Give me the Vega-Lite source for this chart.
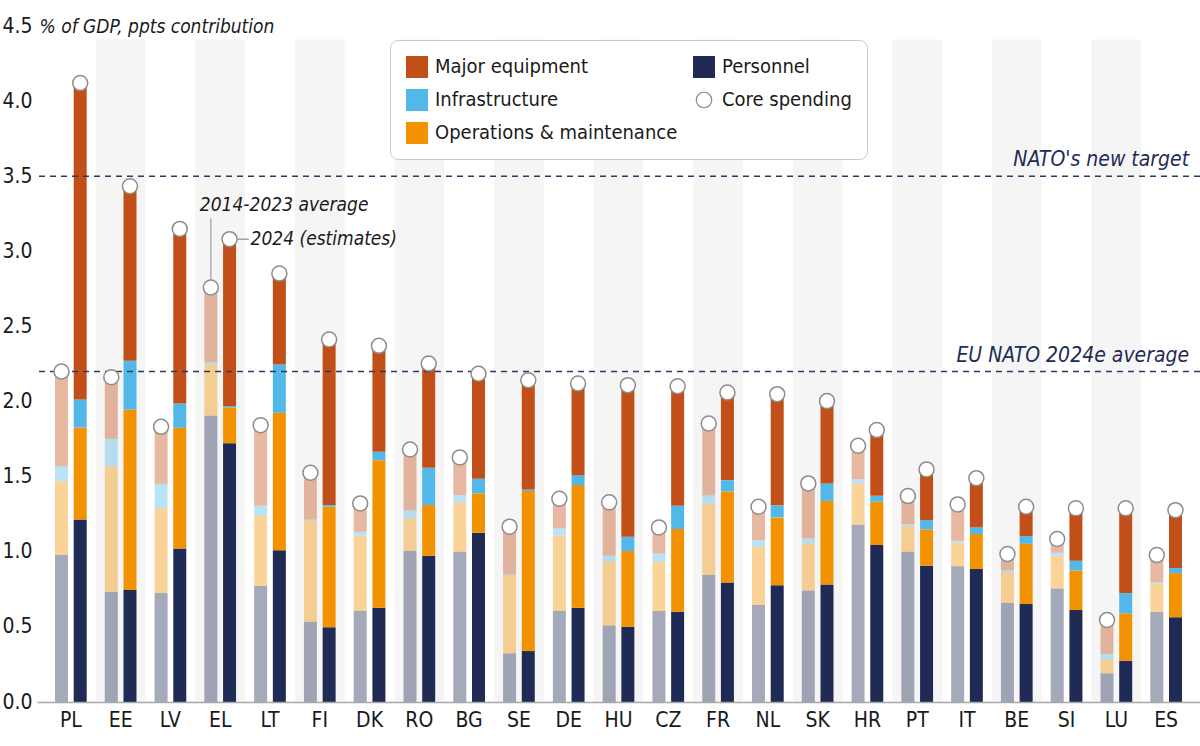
{
  "$schema": "https://vega.github.io/schema/vega-lite/v6.json",
  "width": 1163,
  "height": 676,
  "autosize": {"type": "none"},
  "padding": {"left": 37, "top": 26, "right": 0, "bottom": 44},
  "background": "white",
  "config": {
    "view": {"stroke": null},
    "font": "DejaVu Sans Condensed, Roboto",
    "axis": {"labelFont": "DejaVu Sans Condensed, Roboto", "titleFont": "DejaVu Sans Condensed, Roboto"},
    "legend": {"labelFont": "DejaVu Sans Condensed, Roboto"}
  },
  "datasets": {
    "spend": [
      {"country": "PL", "period": "avg", "Personnel": 0.98, "Operations & maintenance": 0.49, "Infrastructure": 0.10, "Major equipment": 0.63, "total": 2.20},
      {"country": "PL", "period": "2024", "Personnel": 1.215, "Operations & maintenance": 0.613, "Infrastructure": 0.186, "Major equipment": 2.106, "total": 4.12},
      {"country": "EE", "period": "avg", "Personnel": 0.734, "Operations & maintenance": 0.836, "Infrastructure": 0.182, "Major equipment": 0.41, "total": 2.162},
      {"country": "EE", "period": "2024", "Personnel": 0.745, "Operations & maintenance": 1.202, "Infrastructure": 0.324, "Major equipment": 1.162, "total": 3.433},
      {"country": "LV", "period": "avg", "Personnel": 0.725, "Operations & maintenance": 0.566, "Infrastructure": 0.161, "Major equipment": 0.38, "total": 1.832},
      {"country": "LV", "period": "2024", "Personnel": 1.022, "Operations & maintenance": 0.803, "Infrastructure": 0.162, "Major equipment": 1.162, "total": 3.149},
      {"country": "EL", "period": "avg", "Personnel": 1.905, "Operations & maintenance": 0.342, "Infrastructure": 0.015, "Major equipment": 0.497, "total": 2.759},
      {"country": "EL", "period": "2024", "Personnel": 1.723, "Operations & maintenance": 0.238, "Infrastructure": 0.010, "Major equipment": 1.11, "total": 3.081},
      {"country": "LT", "period": "avg", "Personnel": 0.772, "Operations & maintenance": 0.470, "Infrastructure": 0.064, "Major equipment": 0.537, "total": 1.843},
      {"country": "LT", "period": "2024", "Personnel": 1.011, "Operations & maintenance": 0.914, "Infrastructure": 0.322, "Major equipment": 0.605, "total": 2.852},
      {"country": "FI", "period": "avg", "Personnel": 0.534, "Operations & maintenance": 0.672, "Infrastructure": 0.008, "Major equipment": 0.312, "total": 1.526},
      {"country": "FI", "period": "2024", "Personnel": 0.497, "Operations & maintenance": 0.803, "Infrastructure": 0.011, "Major equipment": 1.102, "total": 2.413},
      {"country": "DK", "period": "avg", "Personnel": 0.608, "Operations & maintenance": 0.499, "Infrastructure": 0.026, "Major equipment": 0.189, "total": 1.322},
      {"country": "DK", "period": "2024", "Personnel": 0.628, "Operations & maintenance": 0.982, "Infrastructure": 0.056, "Major equipment": 0.705, "total": 2.371},
      {"country": "RO", "period": "avg", "Personnel": 1.007, "Operations & maintenance": 0.215, "Infrastructure": 0.053, "Major equipment": 0.406, "total": 1.681},
      {"country": "RO", "period": "2024", "Personnel": 0.974, "Operations & maintenance": 0.337, "Infrastructure": 0.248, "Major equipment": 0.694, "total": 2.253},
      {"country": "BG", "period": "avg", "Personnel": 1.0, "Operations & maintenance": 0.329, "Infrastructure": 0.048, "Major equipment": 0.251, "total": 1.628},
      {"country": "BG", "period": "2024", "Personnel": 1.127, "Operations & maintenance": 0.262, "Infrastructure": 0.097, "Major equipment": 0.699, "total": 2.185},
      {"country": "SE", "period": "avg", "Personnel": 0.324, "Operations & maintenance": 0.519, "Infrastructure": 0.005, "Major equipment": 0.319, "total": 1.167},
      {"country": "SE", "period": "2024", "Personnel": 0.339, "Operations & maintenance": 1.065, "Infrastructure": 0.011, "Major equipment": 0.727, "total": 2.142},
      {"country": "DE", "period": "avg", "Personnel": 0.608, "Operations & maintenance": 0.499, "Infrastructure": 0.049, "Major equipment": 0.197, "total": 1.353},
      {"country": "DE", "period": "2024", "Personnel": 0.628, "Operations & maintenance": 0.816, "Infrastructure": 0.066, "Major equipment": 0.61, "total": 2.12},
      {"country": "HU", "period": "avg", "Personnel": 0.51, "Operations & maintenance": 0.428, "Infrastructure": 0.036, "Major equipment": 0.355, "total": 1.329},
      {"country": "HU", "period": "2024", "Personnel": 0.501, "Operations & maintenance": 0.504, "Infrastructure": 0.095, "Major equipment": 1.009, "total": 2.109},
      {"country": "CZ", "period": "avg", "Personnel": 0.605, "Operations & maintenance": 0.329, "Infrastructure": 0.055, "Major equipment": 0.173, "total": 1.162},
      {"country": "CZ", "period": "2024", "Personnel": 0.601, "Operations & maintenance": 0.55, "Infrastructure": 0.155, "Major equipment": 0.796, "total": 2.102},
      {"country": "FR", "period": "avg", "Personnel": 0.845, "Operations & maintenance": 0.477, "Infrastructure": 0.055, "Major equipment": 0.477, "total": 1.854},
      {"country": "FR", "period": "2024", "Personnel": 0.796, "Operations & maintenance": 0.606, "Infrastructure": 0.075, "Major equipment": 0.583, "total": 2.06},
      {"country": "NL", "period": "avg", "Personnel": 0.645, "Operations & maintenance": 0.388, "Infrastructure": 0.045, "Major equipment": 0.222, "total": 1.30},
      {"country": "NL", "period": "2024", "Personnel": 0.778, "Operations & maintenance": 0.451, "Infrastructure": 0.08, "Major equipment": 0.74, "total": 2.049},
      {"country": "SK", "period": "avg", "Personnel": 0.743, "Operations & maintenance": 0.313, "Infrastructure": 0.033, "Major equipment": 0.366, "total": 1.455},
      {"country": "SK", "period": "2024", "Personnel": 0.783, "Operations & maintenance": 0.556, "Infrastructure": 0.116, "Major equipment": 0.548, "total": 2.003},
      {"country": "HR", "period": "avg", "Personnel": 1.18, "Operations & maintenance": 0.275, "Infrastructure": 0.029, "Major equipment": 0.222, "total": 1.706},
      {"country": "HR", "period": "2024", "Personnel": 1.045, "Operations & maintenance": 0.288, "Infrastructure": 0.04, "Major equipment": 0.437, "total": 1.81},
      {"country": "PT", "period": "avg", "Personnel": 1.0, "Operations & maintenance": 0.171, "Infrastructure": 0.013, "Major equipment": 0.187, "total": 1.371},
      {"country": "PT", "period": "2024", "Personnel": 0.907, "Operations & maintenance": 0.242, "Infrastructure": 0.062, "Major equipment": 0.337, "total": 1.548},
      {"country": "IT", "period": "avg", "Personnel": 0.903, "Operations & maintenance": 0.157, "Infrastructure": 0.013, "Major equipment": 0.242, "total": 1.315},
      {"country": "IT", "period": "2024", "Personnel": 0.885, "Operations & maintenance": 0.233, "Infrastructure": 0.044, "Major equipment": 0.328, "total": 1.49},
      {"country": "BE", "period": "avg", "Personnel": 0.659, "Operations & maintenance": 0.204, "Infrastructure": 0.013, "Major equipment": 0.109, "total": 0.985},
      {"country": "BE", "period": "2024", "Personnel": 0.652, "Operations & maintenance": 0.401, "Infrastructure": 0.051, "Major equipment": 0.196, "total": 1.30},
      {"country": "SI", "period": "avg", "Personnel": 0.756, "Operations & maintenance": 0.218, "Infrastructure": 0.019, "Major equipment": 0.092, "total": 1.085},
      {"country": "SI", "period": "2024", "Personnel": 0.612, "Operations & maintenance": 0.264, "Infrastructure": 0.064, "Major equipment": 0.349, "total": 1.289},
      {"country": "LU", "period": "avg", "Personnel": 0.191, "Operations & maintenance": 0.093, "Infrastructure": 0.035, "Major equipment": 0.227, "total": 0.546},
      {"country": "LU", "period": "2024", "Personnel": 0.275, "Operations & maintenance": 0.315, "Infrastructure": 0.135, "Major equipment": 0.564, "total": 1.289},
      {"country": "ES", "period": "avg", "Personnel": 0.599, "Operations & maintenance": 0.188, "Infrastructure": 0.009, "Major equipment": 0.182, "total": 0.978},
      {"country": "ES", "period": "2024", "Personnel": 0.564, "Operations & maintenance": 0.294, "Infrastructure": 0.034, "Major equipment": 0.385, "total": 1.277}
    ],
    "refs": [
      {"y": 3.5, "label": "NATO's new target"},
      {"y": 2.2, "label": "EU NATO 2024e average"}
    ]
  },
  "layer": [
    {
      "data": {"name": "spend"},
      "transform": [
        {"filter": "datum.period === 'avg'"},
        {"calculate": "indexof(['PL','EE','LV','EL','LT','FI','DK','RO','BG','SE','DE','HU','CZ','FR','NL','SK','HR','PT','IT','BE','SI','LU','ES'], datum.country) % 2", "as": "odd"},
        {"filter": "datum.odd === 1"}
      ],
      "mark": {"type": "rect", "fill": "#000000", "fillOpacity": 0.04},
      "encoding": {
        "x": {
          "field": "country", "type": "nominal",
          "scale": {"domain": ["PL","EE","LV","EL","LT","FI","DK","RO","BG","SE","DE","HU","CZ","FR","NL","SK","HR","PT","IT","BE","SI","LU","ES"], "paddingInner": 0, "paddingOuter": 0.18},
          "axis": {"title": null, "labelAngle": 0, "labelFontSize": 21, "labelColor": "#1a1a1a", "labelPadding": 7, "ticks": false, "domainColor": "#a8a8a8", "domainWidth": 1.5, "grid": false}
        },
        "y": {
          "datum": 4.41, "type": "quantitative",
          "scale": {"domain": [0, 4.5], "nice": false},
          "axis": {"title": "% of GDP, ppts contribution", "titleAngle": 0, "titleAlign": "left", "titleBaseline": "middle", "titleX": 2, "titleY": 0, "titleFontStyle": "italic", "titleFontWeight": "normal", "titleFontSize": 19, "titleColor": "#1a1a1a", "values": [0, 0.5, 1, 1.5, 2, 2.5, 3, 3.5, 4, 4.5], "format": ".1f", "labelFontSize": 21, "labelColor": "#1a1a1a", "labelPadding": 5, "ticks": false, "domain": false, "gridColor": "#dedede", "gridWidth": 1}
        },
        "y2": {"datum": 0}
      }
    },
    {
      "data": {"name": "spend"},
      "transform": [
        {"fold": ["Personnel", "Operations & maintenance", "Infrastructure", "Major equipment"], "as": ["component", "value"]},
        {"calculate": "indexof(['Personnel','Operations & maintenance','Infrastructure','Major equipment'], datum.component)", "as": "ord"}
      ],
      "mark": {"type": "bar"},
      "encoding": {
        "x": {"field": "country", "type": "nominal"},
        "xOffset": {"field": "period", "type": "nominal", "scale": {"domain": ["avg", "2024"], "paddingInner": 0.305, "paddingOuter": 0.484}},
        "y": {"field": "value", "type": "quantitative", "stack": "zero"},
        "order": {"field": "ord", "type": "quantitative", "sort": "ascending"},
        "color": {
          "field": "component", "type": "nominal",
          "scale": {"domain": ["Major equipment", "Infrastructure", "Operations & maintenance", "Personnel", "Core spending"], "range": ["#c34f18", "#52b8ea", "#f39200", "#1f2a55", "#ffffff"]},
          "legend": {
            "title": null, "orient": "none", "legendX": 353, "legendY": 14, "direction": "vertical", "columns": 2,
            "symbolType": "square", "symbolSize": 484, "symbolStrokeWidth": 0, "labelFontSize": 20, "labelColor": "#1a1a1a", "labelOffset": 6,
            "rowPadding": 10, "columnPadding": 14, "padding": 15, "strokeColor": "#c8c8c8", "cornerRadius": 8, "fillColor": "#ffffff", "labelLimit": 400,
            "encode": {"symbols": {"update": {
              "shape": {"signal": "datum.value === 'Core spending' ? 'circle' : 'square'"},
              "size": {"signal": "datum.value === 'Core spending' ? 240 : 484"},
              "stroke": {"signal": "datum.value === 'Core spending' ? '#8c8c8c' : null"},
              "strokeWidth": {"value": 1.2},
              "opacity": {"value": 1},
              "fillOpacity": {"value": 1}
            }}}
          }
        },
        "opacity": {"field": "period", "type": "nominal", "scale": {"domain": ["avg", "2024"], "range": [0.4, 1]}, "legend": null}
      }
    },
    {
      "data": {"name": "refs"},
      "mark": {"type": "rule", "color": "#2d3a63", "strokeWidth": 1.5, "strokeDash": [6, 5]},
      "encoding": {"y": {"field": "y", "type": "quantitative"}}
    },
    {
      "data": {"name": "refs"},
      "mark": {"type": "text", "align": "right", "baseline": "alphabetic", "dx": 23, "dy": -10, "fontSize": 21, "fontStyle": "italic", "color": "#1f2a55"},
      "encoding": {
        "x": {"datum": "ES"},
        "y": {"field": "y", "type": "quantitative"},
        "text": {"field": "label"}
      }
    },
    {
      "data": {"name": "spend"},
      "mark": {"type": "point", "filled": true, "stroke": "#8c8c8c", "strokeWidth": 1.5, "size": 225, "opacity": 1, "fillOpacity": 1},
      "encoding": {
        "x": {"field": "country", "type": "nominal"},
        "xOffset": {"field": "period", "type": "nominal"},
        "y": {"field": "total", "type": "quantitative"},
        "color": {"datum": "Core spending"}
      }
    },
    {
      "data": {"values": [{}]},
      "mark": {"type": "rule", "color": "#8c8c8c", "strokeWidth": 1},
      "encoding": {
        "x": {"datum": "EL"},
        "xOffset": {"datum": "avg"},
        "y": {"datum": 2.81},
        "y2": {"datum": 3.22}
      }
    },
    {
      "data": {"values": [{}]},
      "mark": {"type": "point", "shape": "M0.73,0H1.75", "filled": false, "stroke": "#8c8c8c", "strokeWidth": 1.2, "size": 484, "opacity": 1},
      "encoding": {
        "x": {"datum": "EL"},
        "xOffset": {"datum": "2024"},
        "y": {"datum": 3.081}
      }
    },
    {
      "data": {"values": [{"t": "2014-2023 average"}]},
      "mark": {"type": "text", "align": "left", "baseline": "middle", "dx": -11, "fontSize": 19, "fontStyle": "italic", "color": "#1a1a1a"},
      "encoding": {
        "x": {"datum": "EL"},
        "xOffset": {"datum": "avg"},
        "y": {"datum": 3.31},
        "text": {"field": "t"}
      }
    },
    {
      "data": {"values": [{"t": "2024 (estimates)"}]},
      "mark": {"type": "text", "align": "left", "baseline": "middle", "dx": 21, "fontSize": 19, "fontStyle": "italic", "color": "#1a1a1a"},
      "encoding": {
        "x": {"datum": "EL"},
        "xOffset": {"datum": "2024"},
        "y": {"datum": 3.081},
        "text": {"field": "t"}
      }
    }
  ]
}
